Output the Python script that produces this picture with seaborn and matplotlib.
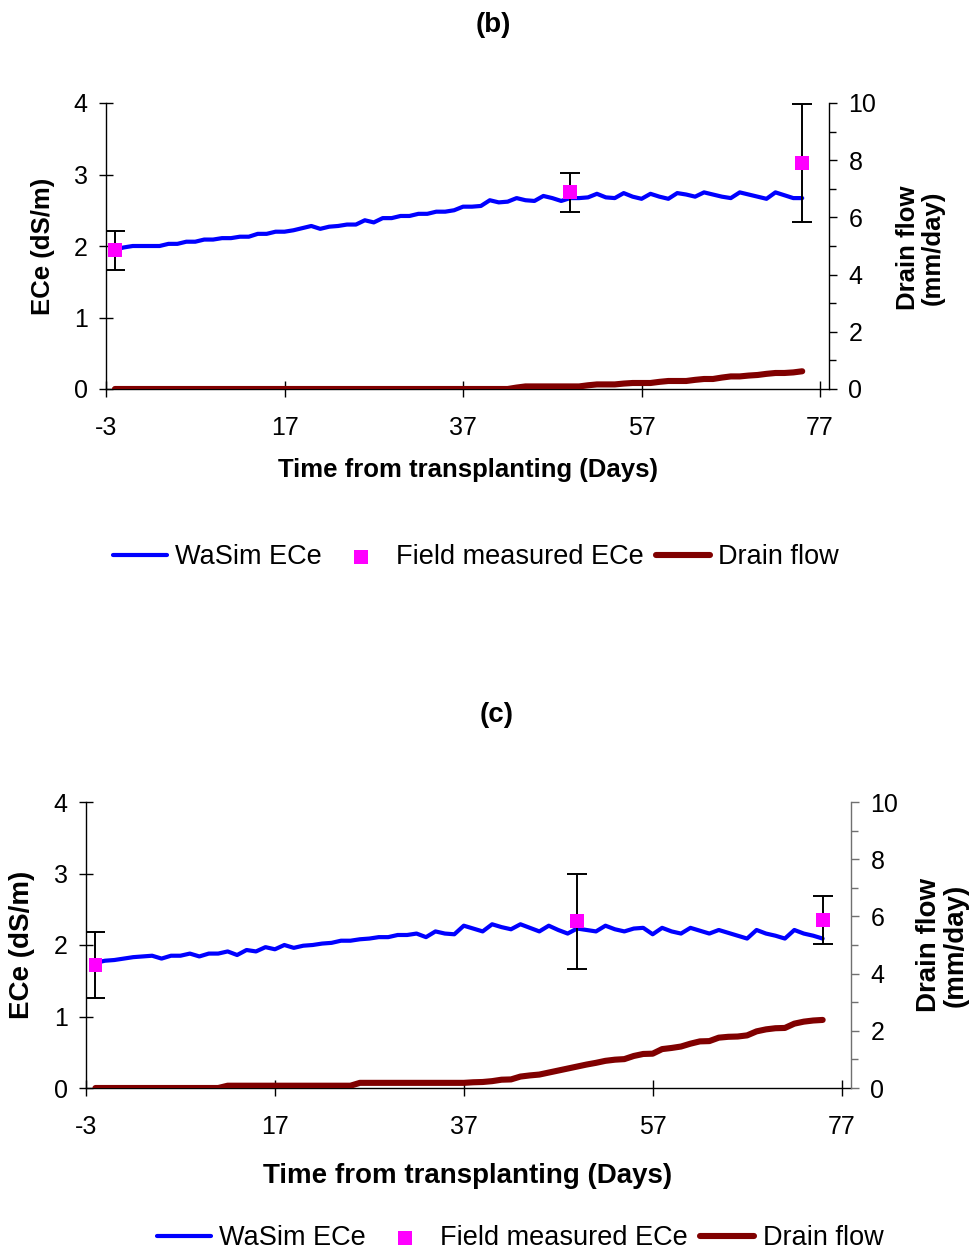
import numpy as np
import pandas as pd
import seaborn as sns
import matplotlib.pyplot as plt
from matplotlib.ticker import MultipleLocator

# ---------------- data ----------------
days = list(range(-2, 76))

ece_b = [1.95, 1.98, 2.00, 2.00, 2.00, 2.00, 2.03, 2.03, 2.06, 2.06,
         2.09, 2.09, 2.11, 2.11, 2.13, 2.13, 2.17, 2.17, 2.20, 2.20,
         2.22, 2.25, 2.28, 2.24, 2.27, 2.28, 2.30, 2.30, 2.36, 2.33,
         2.39, 2.39, 2.42, 2.42, 2.45, 2.45, 2.48, 2.48, 2.50, 2.55,
         2.55, 2.56, 2.64, 2.61, 2.62, 2.67, 2.64, 2.63, 2.70, 2.67,
         2.63, 2.67, 2.67, 2.68, 2.73, 2.68, 2.67, 2.74, 2.69, 2.66,
         2.73, 2.69, 2.66, 2.74, 2.72, 2.69, 2.75, 2.72, 2.69, 2.67,
         2.75, 2.72, 2.69, 2.66, 2.75, 2.71, 2.67, 2.67]

drain_b = [0, 0, 0, 0, 0, 0, 0, 0, 0, 0,
           0, 0, 0, 0, 0, 0, 0, 0, 0, 0,
           0, 0, 0, 0, 0, 0, 0, 0, 0, 0,
           0, 0, 0, 0, 0, 0, 0, 0, 0, 0,
           0, 0, 0, 0, 0, 0.05, 0.09, 0.09, 0.09, 0.09,
           0.09, 0.09, 0.09, 0.13, 0.16, 0.16, 0.16, 0.19, 0.21, 0.21,
           0.21, 0.25, 0.28, 0.28, 0.28, 0.32, 0.35, 0.35, 0.40, 0.44,
           0.44, 0.47, 0.49, 0.53, 0.56, 0.56, 0.58, 0.62]

ece_c = [1.75, 1.78, 1.79, 1.81, 1.83, 1.84, 1.85, 1.81, 1.85, 1.85,
         1.88, 1.84, 1.88, 1.88, 1.91, 1.86, 1.93, 1.91, 1.97, 1.94,
         2.00, 1.96, 1.99, 2.00, 2.02, 2.03, 2.06, 2.06, 2.08, 2.09,
         2.11, 2.11, 2.14, 2.14, 2.16, 2.11, 2.19, 2.16, 2.15, 2.27,
         2.23, 2.19, 2.29, 2.25, 2.22, 2.29, 2.24, 2.19, 2.27, 2.21,
         2.16, 2.23, 2.21, 2.19, 2.27, 2.22, 2.19, 2.23, 2.24, 2.15,
         2.24, 2.19, 2.16, 2.24, 2.20, 2.16, 2.21, 2.17, 2.13, 2.09,
         2.21, 2.16, 2.13, 2.09, 2.21, 2.16, 2.13, 2.09]

drain_c = [0, 0, 0, 0, 0, 0, 0, 0, 0, 0,
           0, 0, 0, 0, 0.08, 0.08, 0.08, 0.08, 0.08, 0.08,
           0.08, 0.08, 0.08, 0.08, 0.08, 0.08, 0.08, 0.08, 0.18, 0.18,
           0.18, 0.18, 0.18, 0.18, 0.18, 0.18, 0.18, 0.18, 0.18, 0.18,
           0.20, 0.21, 0.24, 0.29, 0.30, 0.40, 0.44, 0.47, 0.54, 0.61,
           0.68, 0.75, 0.82, 0.88, 0.95, 0.99, 1.01, 1.12, 1.19, 1.20,
           1.36, 1.40, 1.45, 1.55, 1.63, 1.64, 1.76, 1.79, 1.80, 1.84,
           1.98, 2.05, 2.09, 2.10, 2.25, 2.32, 2.36, 2.38]

meas_days = [-2, 49, 75]
meas_b = [1.94, 2.75, 3.16]
err_b = [0.27, 0.27, 0.82]
meas_c = [1.72, 2.33, 2.35]
err_c = [0.46, 0.67, 0.34]

x_ticks = [-3, 17, 37, 57, 77]
ece_ticks = [0, 1, 2, 3, 4]
drain_ticks = [0, 2, 4, 6, 8, 10]

# ---------------- style ----------------
sns.set_style("ticks")
plt.rcParams['font.family'] = ['Liberation Sans', 'DejaVu Sans']
plt.rcParams['axes.unicode_minus'] = False
plt.rcParams['text.color'] = 'black'

W, H = 980, 1253
fig = plt.figure(figsize=(W / 100, H / 100), dpi=100)

BLUE = '#0000FF'
MAG = '#FF00FF'
DRED = '#800000'
TICK_FS = 18


def panel(box, ece, drain, meas, err, title, title_xy, xl_xy, yl_xy, yr_xy,
          leg_xy, lab_fs, rcol):
    l, t, r, b = box
    ax = fig.add_axes([l / W, 1 - b / H, (r - l) / W, (b - t) / H])
    df = pd.DataFrame({'day': days, 'ece': ece, 'drain': drain})
    sns.lineplot(data=df, x='day', y='ece', ax=ax, color=BLUE, lw=3.0,
                 label='WaSim ECe', legend=False, zorder=2)
    ax.errorbar(meas_days, meas, yerr=err, fmt='none', ecolor='black',
                elinewidth=1.4, capsize=7, capthick=1.4, zorder=3)
    sns.scatterplot(x=meas_days, y=meas, ax=ax, marker='s', color=MAG,
                    s=100, edgecolor='none', linewidth=0, zorder=4,
                    label='Field measured ECe', legend=False)
    ax2 = ax.twinx()
    sns.lineplot(data=df, x='day', y='drain', ax=ax2, color=DRED, lw=4.4,
                 label='Drain flow', legend=False, solid_capstyle='round')

    ax.set_xlim(-3, 78)
    ax.set_ylim(0, 4)
    ax2.set_ylim(0, 10)
    ax.set_xticks(x_ticks)
    ax.set_yticks(ece_ticks)
    ax2.set_yticks(drain_ticks)
    ax2.yaxis.set_minor_locator(MultipleLocator(1))
    ax.set_xlabel('')
    ax.set_ylabel('')
    ax2.set_ylabel('')

    for s in ['top', 'right']:
        ax.spines[s].set_visible(False)
    for s in ['top', 'left', 'bottom']:
        ax2.spines[s].set_visible(False)
    for s in ['left', 'bottom']:
        ax.spines[s].set_color('black')
        ax.spines[s].set_linewidth(1.0)
    ax2.spines['right'].set_color(rcol)
    ax2.spines['right'].set_linewidth(1.0)

    ax.tick_params(axis='y', direction='inout', length=10.5, width=1,
                   labelsize=TICK_FS, pad=8, left=True, right=False,
                   color='black', labelcolor='black')
    ax.tick_params(axis='x', direction='inout', length=11, width=1,
                   labelsize=TICK_FS, pad=14, bottom=True, top=False,
                   color='black', labelcolor='black')
    ax2.tick_params(axis='y', which='major', direction='out', length=6,
                    width=1, labelsize=TICK_FS, pad=8, right=True, left=False,
                    color=rcol, labelcolor='black')
    ax2.tick_params(axis='y', which='minor', direction='out', length=5,
                    width=1, right=True, left=False, color=rcol)

    fig.text(title_xy[0] / W, 1 - title_xy[1] / H, title, ha='center',
             va='center', fontsize=20, fontweight='bold', color='black')
    fig.text(xl_xy[0] / W, 1 - xl_xy[1] / H, 'Time from transplanting (Days)',
             ha='center', va='center', fontsize=lab_fs, fontweight='bold',
             color='black')
    fig.text(yl_xy[0] / W, 1 - yl_xy[1] / H, 'ECe (dS/m)', rotation=90,
             ha='center', va='center', fontsize=lab_fs, fontweight='bold',
             color='black')
    fig.text(yr_xy[0] / W, 1 - yr_xy[1] / H, 'Drain flow\n(mm/day)',
             rotation=90, ha='center', va='center', multialignment='center',
             fontsize=lab_fs, fontweight='bold', linespacing=1.05,
             color='black')

    handles = [ax.lines[0], ax.collections[-1], ax2.lines[0]]
    labels = ['WaSim ECe', 'Field measured ECe', 'Drain flow']
    leg = fig.legend(handles, labels, loc='center',
                     bbox_to_anchor=(leg_xy[0] / W, 1 - leg_xy[1] / H),
                     ncol=3, frameon=False, fontsize=19.5, handlelength=2.0,
                     handletextpad=0.3, columnspacing=0.45, markerscale=1.0)
    for txt in leg.get_texts():
        txt.set_color('black')
    return ax, ax2


panel((106, 103, 829, 389), ece_b, drain_b, meas_b, err_b, '(b)',
      (493, 25), (468, 470), (43, 246), (920, 248), (476, 557), 18.5, 'black')
panel((86, 802, 851, 1088), ece_c, drain_c, meas_c, err_c, '(c)',
      (497, 715), (468, 1176), (22, 945), (942, 945), (520, 1238), 20,
      '#707070')

fig.savefig('out.png', dpi=100)
